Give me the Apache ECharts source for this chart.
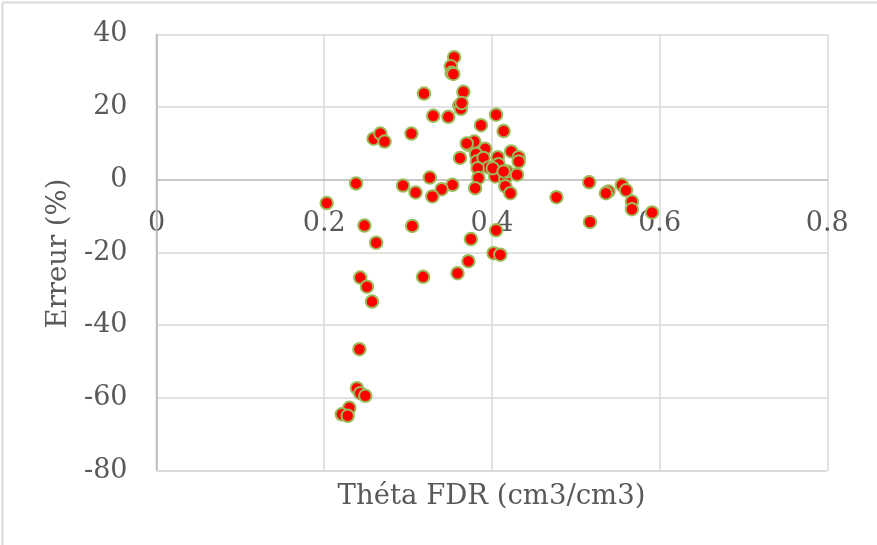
<!DOCTYPE html>
<html>
<head>
<meta charset="utf-8">
<script src="https://cdn.jsdelivr.net/npm/echarts@6/dist/echarts.min.js"></script>
<style>html,body{margin:0;padding:0;background:#fff;}#c{width:877px;height:545px;}</style>
</head>
<body>
<div id="c"></div>
<script>
// Théta FDR (cm3/cm3)
const thetaFDR = [
  0.355, 0.351, 0.352, 0.354, 0.319, 0.366, 0.361, 0.363, 0.364, 0.330,
  0.348, 0.405, 0.387, 0.414, 0.259, 0.267, 0.272, 0.304, 0.372, 0.379,
  0.392, 0.362, 0.381, 0.382, 0.390, 0.407, 0.408, 0.396, 0.383, 0.384,
  0.404, 0.416, 0.418, 0.423, 0.432, 0.432, 0.430, 0.380, 0.416, 0.422,
  0.353, 0.340, 0.329, 0.326, 0.309, 0.294, 0.238, 0.203, 0.477, 0.516,
  0.555, 0.560, 0.539, 0.536, 0.567, 0.567, 0.591, 0.517, 0.405, 0.375,
  0.402, 0.410, 0.372, 0.248, 0.305, 0.262, 0.243, 0.251, 0.257, 0.318,
  0.359, 0.242, 0.239, 0.243, 0.249, 0.230, 0.221, 0.228, 0.401, 0.370,
  0.414
];
// Erreur (%)
const erreur = [
  33.7, 31.2, 29.4, 29.1, 23.7, 24.2, 20.4, 19.5, 21.1, 17.6,
  17.3, 17.9, 15.0, 13.4, 11.3, 12.7, 10.5, 12.7, 9.6, 10.5,
  8.5, 6.0, 7.1, 5.0, 6.0, 6.2, 4.3, 3.4, 3.2, 0.5,
  0.9, 0.5, 2.3, 7.8, 6.2, 5.0, 1.4, -2.3, -1.8, -3.7,
  -1.4, -2.6, -4.6, 0.6, -3.5, -1.6, -1.0, -6.4, -4.8, -0.7,
  -1.4, -2.9, -3.2, -3.7, -6.0, -8.1, -9.0, -11.6, -13.9, -16.3,
  -20.2, -20.6, -22.4, -12.6, -12.7, -17.3, -26.9, -29.4, -33.5, -26.7,
  -25.7, -46.6, -57.3, -58.7, -59.4, -62.7, -64.5, -64.9, 3.2, 10.0,
  2.3
];
const xTicks = [0, 0.2, 0.4, 0.6, 0.8];
const yTicks = [-80, -60, -40, -20, 0, 20, 40];
const xTitle = 'Théta FDR (cm3/cm3)';
const yTitle = 'Erreur (%)';

const FONT = 'DejaVu Serif';
const TXT = '#595959';
const W = 877, H = 545;
const G = {left: 156.5, right: 49.7, top: 34.3, bottom: 74.3};
const plotH = H - G.top - G.bottom;
const yMin = yTicks[0], yMax = yTicks[yTicks.length - 1];
// move the x axis (labels) up to the y = 0 line, like the original
const xAxisOffset = -plotH * (0 - yMin) / (yMax - yMin);

const chart = echarts.init(document.getElementById('c'), null, {renderer: 'canvas'});
chart.setOption({
  animation: false,
  backgroundColor: '#fff',
  grid: Object.assign({containLabel: false}, G),
  xAxis: {
    type: 'value', min: xTicks[0], max: xTicks[xTicks.length - 1], interval: 0.2,
    position: 'bottom', offset: xAxisOffset,
    axisLine: {show: true, onZero: false, lineStyle: {color: '#bfbfbf', width: 1.5}},
    axisTick: {show: false},
    axisLabel: {color: TXT, fontFamily: FONT, fontSize: 27, margin: 31},
    splitLine: {show: true, lineStyle: {color: '#d9d9d9', width: 1.5}}
  },
  yAxis: {
    type: 'value', min: yMin, max: yMax, interval: 20,
    axisLine: {show: true, onZero: false, lineStyle: {color: '#bfbfbf', width: 1.5}},
    axisTick: {show: false},
    axisLabel: {color: TXT, fontFamily: FONT, fontSize: 27, margin: 29},
    splitLine: {show: true, lineStyle: {color: '#d9d9d9', width: 1.5}}
  },
  graphic: [
    {type: 'line', silent: true, shape: {x1: 2.5, y1: 2.5, x2: 2.5, y2: H}, style: {stroke: '#d9d9d9', lineWidth: 2}},
    {type: 'line', silent: true, shape: {x1: 2.5, y1: 2.5, x2: W, y2: 2.5}, style: {stroke: '#d9d9d9', lineWidth: 2}},
    {type: 'line', silent: true, z: 1, shape: {x1: G.left, y1: G.top, x2: G.left, y2: H - G.bottom}, style: {stroke: '#bfbfbf', lineWidth: 1.5}},
    {type: 'line', silent: true, z: 1, shape: {x1: G.left, y1: H - G.bottom, x2: W - G.right, y2: H - G.bottom}, style: {stroke: '#d9d9d9', lineWidth: 1.5}},
    {type: 'text', position: [491.5, 497], style: {text: xTitle, font: '27.5px "DejaVu Serif"', fill: TXT, textAlign: 'center', textVerticalAlign: 'middle'}},
    {type: 'text', rotation: Math.PI / 2, position: [58.5, 253.5], style: {text: yTitle, font: '27.5px "DejaVu Serif"', fill: TXT, textAlign: 'center', textVerticalAlign: 'middle'}}
  ],
  series: [{
    type: 'scatter',
    data: thetaFDR.map((x, i) => [x, erreur[i]]),
    symbol: 'circle',
    symbolSize: 12.5,
    itemStyle: {color: '#ff0000', borderColor: '#9bbb59', borderWidth: 2, opacity: 1}
  }]
});
</script>
</body>
</html>
